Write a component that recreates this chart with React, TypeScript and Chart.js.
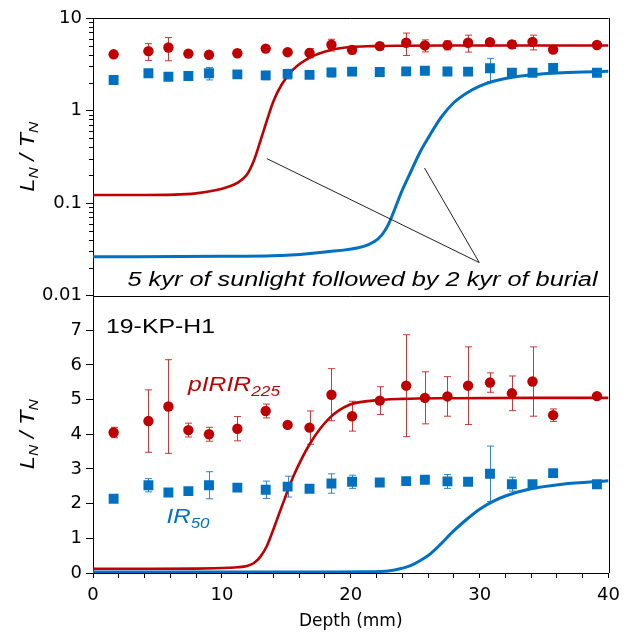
import React, { useEffect, useRef } from 'react';
import { Chart, registerables } from 'chart.js';

Chart.register(...registerables);

// ---- Data ----
const depthMm = [1.6, 4.3, 5.85, 7.4, 9.0, 11.2, 13.4, 15.1, 16.8, 18.5, 20.1, 22.25, 24.3, 25.75, 27.5, 29.1, 30.8, 32.5, 34.1, 35.7, 39.1];
const pIRIR225 = [4.05, 4.38, 4.8, 4.12, 4.0, 4.16, 4.67, 4.27, 4.19, 5.14, 4.52, 4.97, 5.4, 5.05, 5.09, 5.4, 5.49, 5.18, 5.52, 4.55, 5.1];
const pIRIR225Err = [0.15, 0.9, 1.35, 0.2, 0.2, 0.35, 0.2, 0, 0.48, 0.75, 0.43, 0.4, 1.47, 0.75, 0.57, 1.12, 0.28, 0.5, 1.0, 0.18, 0];
const IR50 = [2.14, 2.53, 2.32, 2.36, 2.53, 2.46, 2.4, 2.49, 2.43, 2.58, 2.63, 2.61, 2.65, 2.69, 2.64, 2.63, 2.86, 2.56, 2.56, 2.88, 2.56];
const IR50Err = [0, 0.19, 0.1, 0.1, 0.39, 0.08, 0.25, 0.3, 0.1, 0.28, 0.19, 0, 0, 0.05, 0.2, 0, 0.8, 0.2, 0, 0, 0.08];

// model curves
const redModelDepth = [0, 4, 8, 9.5, 10.5, 11.2, 11.95, 12.46, 12.98, 13.48, 14.0, 14.64, 15.54, 16.82, 18.36, 19.9, 21.7, 24, 28, 34, 40];
const redModel = [0.122, 0.122, 0.127, 0.137, 0.15, 0.165, 0.203, 0.282, 0.465, 0.77, 1.26, 1.91, 2.78, 3.72, 4.47, 4.85, 4.97, 5.02, 5.04, 5.05, 5.05];
const blueModelDepth = [0, 10, 15, 18, 21.0, 21.8, 22.4, 22.9, 23.4, 23.9, 24.64, 25.4, 26.2, 27.0, 28.0, 29.0, 30.0, 31.0, 32.0, 33.9, 36.4, 40];
const blueModel = [0.0262, 0.0265, 0.0272, 0.0295, 0.034, 0.038, 0.045, 0.058, 0.085, 0.128, 0.215, 0.36, 0.56, 0.84, 1.22, 1.55, 1.84, 2.06, 2.22, 2.42, 2.56, 2.66];

// callout lines (apex first, then the two targets), in data units of the log panel
const calloutDepth = [29.97, 25.72, 13.49];
const calloutValue = [0.0227, 0.239, 0.302];

// ticks
const xTickValues = [0, 2, 4, 6, 8, 10, 12, 14, 16, 18, 20, 22, 24, 26, 28, 30, 32, 34, 36, 38, 40];
const logTickValues = [0.01, 0.1, 1, 10];
const linTickValues = [0, 1, 2, 3, 4, 5, 6, 7];

const RED = '#C00000';
const BLUE = '#0070C0';
const RED_ERR = 'rgba(200,20,20,0.85)';
const BLUE_ERR = 'rgba(10,115,200,0.85)';

const pts = (xs: number[], ys: number[]) => xs.map((x, i) => ({ x, y: ys[i] }));

type Run = { text: string; font: string; dy?: number };

function drawRuns(ctx: CanvasRenderingContext2D, runs: Run[], x: number, y: number, targetWidth: number, align: 'left' | 'center') {
  ctx.save();
  let natural = 0;
  runs.forEach((r) => {
    ctx.font = r.font;
    natural += ctx.measureText(r.text).width;
  });
  const sx = targetWidth / natural;
  ctx.translate(x, y);
  ctx.scale(sx, 1);
  let cx = align === 'center' ? -natural / 2 : 0;
  ctx.textAlign = 'left';
  ctx.textBaseline = 'alphabetic';
  runs.forEach((r) => {
    ctx.font = r.font;
    ctx.fillText(r.text, cx, r.dy || 0);
    cx += ctx.measureText(r.text).width;
  });
  ctx.restore();
}

const decorPlugin = {
  id: 'decor',
  beforeDatasetsDraw(chart: any) {
    const ctx: CanvasRenderingContext2D = chart.ctx;
    const x = chart.scales.x;
    const panels = [chart.scales.yLog, chart.scales.yLin];
    ctx.save();
    ctx.lineWidth = 1;
    panels.forEach((ys: any) => {
      const sets = [
        { v: pIRIR225, e: pIRIR225Err, c: RED_ERR },
        { v: IR50, e: IR50Err, c: BLUE_ERR },
      ];
      sets.forEach((s) => {
        ctx.strokeStyle = s.c;
        depthMm.forEach((d, i) => {
          const err = s.e[i];
          if (!err) return;
          const px = Math.round(x.getPixelForValue(d)) + 0.5;
          const top = ys.getPixelForValue(s.v[i] + err);
          const bot = ys.getPixelForValue(s.v[i] - err);
          ctx.beginPath();
          ctx.moveTo(px, top);
          ctx.lineTo(px, bot);
          ctx.moveTo(px - 3.5, top);
          ctx.lineTo(px + 3.5, top);
          ctx.moveTo(px - 3.5, bot);
          ctx.lineTo(px + 3.5, bot);
          ctx.stroke();
        });
      });
    });
    ctx.restore();
  },
  afterDatasetsDraw(chart: any) {
    const ctx: CanvasRenderingContext2D = chart.ctx;
    const x = chart.scales.x;
    const ys = chart.scales.yLog;
    const ax = x.getPixelForValue(calloutDepth[0]);
    const ay = ys.getPixelForValue(calloutValue[0]);
    ctx.save();
    ctx.strokeStyle = '#222';
    ctx.lineWidth = 1;
    for (let i = 1; i < calloutDepth.length; i++) {
      ctx.beginPath();
      ctx.moveTo(ax, ay);
      ctx.lineTo(x.getPixelForValue(calloutDepth[i]), ys.getPixelForValue(calloutValue[i]));
      ctx.stroke();
    }
    ctx.restore();
  },
  afterDraw(chart: any) {
    const ctx: CanvasRenderingContext2D = chart.ctx;
    const area = chart.chartArea;
    const yLog = chart.scales.yLog;
    const yLin = chart.scales.yLin;
    ctx.save();
    // frame
    ctx.strokeStyle = '#000';
    ctx.lineWidth = 1;
    ctx.beginPath();
    ctx.moveTo(area.left, Math.round(area.top) + 0.5);
    ctx.lineTo(area.right, Math.round(area.top) + 0.5);
    ctx.moveTo(Math.round(area.right) + 0.5, area.top);
    ctx.lineTo(Math.round(area.right) + 0.5, area.bottom);
    ctx.moveTo(area.left, Math.round(yLog.bottom) + 0.5);
    ctx.lineTo(area.right, Math.round(yLog.bottom) + 0.5);
    ctx.stroke();
    // minor log ticks
    ctx.beginPath();
    [0.01, 0.1, 1].forEach((dec) => {
      for (let k = 2; k <= 9; k++) {
        const py = Math.round(yLog.getPixelForValue(k * dec)) + 0.5;
        ctx.moveTo(area.left - 4, py);
        ctx.lineTo(area.left, py);
      }
    });
    ctx.stroke();

    // texts
    ctx.fillStyle = '#000';
    drawRuns(ctx, [{ text: '5 kyr of sunlight followed by 2 kyr of burial', font: 'italic 20px "Liberation Sans"' }], 362.5, 286, 470, 'center');
    drawRuns(ctx, [{ text: '19-KP-H1', font: '20px "Liberation Sans"' }], 106, 332.5, 109, 'left');
    ctx.fillStyle = RED;
    drawRuns(ctx, [
      { text: 'pIRIR', font: 'italic 20px "Liberation Sans"' },
      { text: '225', font: 'italic 14px "Liberation Sans"', dy: 5.3 },
    ], 188, 390.7, 92, 'left');
    ctx.fillStyle = BLUE;
    drawRuns(ctx, [
      { text: 'IR', font: 'italic 20px "Liberation Sans"' },
      { text: '50', font: 'italic 14px "Liberation Sans"', dy: 5 },
    ], 166.5, 523.3, 43, 'left');

    // y titles
    ctx.fillStyle = '#000';
    const titleRuns: Run[] = [
      { text: 'L', font: 'italic 20px "Liberation Sans"' },
      { text: 'N', font: 'italic 13px "Liberation Sans"', dy: 4 },
      { text: ' / ', font: 'italic 20px "Liberation Sans"' },
      { text: 'T', font: 'italic 20px "Liberation Sans"' },
      { text: 'N', font: 'italic 13px "Liberation Sans"', dy: 4 },
    ];
    [yLog, yLin].forEach((s: any) => {
      const cy = (s.top + s.bottom) / 2;
      ctx.save();
      ctx.translate(34, cy);
      ctx.rotate(-Math.PI / 2);
      drawRuns(ctx, titleRuns, 0, 0, 70, 'center');
      ctx.restore();
    });
    ctx.restore();
  },
};

const tickFont = { family: 'DejaVu Sans', size: 18 };

export default function App() {
  const ref = useRef<HTMLCanvasElement | null>(null);

  useEffect(() => {
    if (!ref.current) return;
    const redPoints = pts(depthMm, pIRIR225);
    const bluePoints = pts(depthMm, IR50);
    const redCurve = pts(redModelDepth, redModel);
    const blueCurve = pts(blueModelDepth, blueModel);

    const pointSet = (data: any, color: string, style: string, radius: number, axis: string) => ({
      type: 'scatter' as const,
      data,
      yAxisID: axis,
      pointStyle: style,
      pointRadius: radius,
      pointBackgroundColor: color,
      pointBorderColor: color,
      pointBorderWidth: 0,
      showLine: false,
    });
    const lineSet = (data: any, color: string, width: number, axis: string) => ({
      type: 'line' as const,
      data,
      yAxisID: axis,
      borderColor: color,
      borderWidth: width,
      pointRadius: 0,
      fill: false,
      cubicInterpolationMode: 'monotone' as const,
    });

    const chart = new Chart(ref.current, {
      type: 'scatter',
      data: {
        datasets: [
          pointSet(redPoints, RED, 'circle', 5.2, 'yLog'),
          pointSet(bluePoints, BLUE, 'rect', 7, 'yLog'),
          pointSet(redPoints, RED, 'circle', 5.2, 'yLin'),
          pointSet(bluePoints, BLUE, 'rect', 7, 'yLin'),
          lineSet(redCurve, RED, 2.6, 'yLog'),
          lineSet(blueCurve, BLUE, 3, 'yLog'),
          lineSet(redCurve, RED, 2.6, 'yLin'),
          lineSet(blueCurve, BLUE, 3, 'yLin'),
        ] as any,
      },
      options: {
        responsive: false,
        animation: false,
        events: [],
        layout: { padding: { top: 18, right: 14, left: 0, bottom: 0 } },
        plugins: { legend: { display: false }, tooltip: { enabled: false } },
        scales: {
          x: {
            type: 'linear',
            min: 0,
            max: 40,
            afterBuildTicks: (s: any) => {
              s.ticks = xTickValues.map((v) => ({ value: v }));
            },
            afterFit: (s: any) => {
              s.height = 61;
            },
            ticks: {
              autoSkip: false,
              maxRotation: 0,
              padding: 7,
              color: '#000',
              font: tickFont,
              callback: (v: any) => (Number(v) % 10 === 0 ? String(v) : ''),
            },
            grid: { drawOnChartArea: false, tickLength: 5, color: '#000', tickColor: '#000' },
            border: { display: true, color: '#000', width: 1 },
            title: {
              display: true,
              text: 'Depth (mm)',
              color: '#000',
              font: { family: 'DejaVu Sans', size: 17 },
              padding: { top: 0, bottom: 2 },
            },
          },
          yLog: {
            type: 'logarithmic',
            position: 'left',
            stack: 'panels',
            stackWeight: 1,
            weight: 2,
            min: 0.01,
            max: 10,
            afterBuildTicks: (s: any) => {
              s.ticks = logTickValues.map((v) => ({ value: v, major: true }));
            },
            afterFit: (s: any) => {
              s.width = 93;
            },
            ticks: {
              autoSkip: false,
              padding: 4,
              color: '#000',
              font: tickFont,
              callback: (v: any) => String(v),
            },
            grid: { drawOnChartArea: false, tickLength: 7, color: '#000', tickColor: '#000' },
            border: { display: true, color: '#000', width: 1 },
          },
          yLin: {
            type: 'linear',
            position: 'left',
            stack: 'panels',
            stackWeight: 1,
            weight: 1,
            min: 0,
            max: 8,
            afterBuildTicks: (s: any) => {
              s.ticks = linTickValues.map((v) => ({ value: v }));
            },
            afterFit: (s: any) => {
              s.width = 93;
            },
            ticks: {
              autoSkip: false,
              padding: 4,
              color: '#000',
              font: tickFont,
              callback: (v: any) => String(v),
            },
            grid: { drawOnChartArea: false, tickLength: 7, color: '#000', tickColor: '#000' },
            border: { display: true, color: '#000', width: 1 },
          },
        } as any,
      },
      plugins: [decorPlugin],
    });
    return () => chart.destroy();
  }, []);

  return (
    <div style={{ position: 'fixed', left: 0, top: 0, width: 627, height: 634, background: '#fff' }}>
      <canvas ref={ref} width={627} height={634} style={{ display: 'block', width: 627, height: 634 }} />
    </div>
  );
}
